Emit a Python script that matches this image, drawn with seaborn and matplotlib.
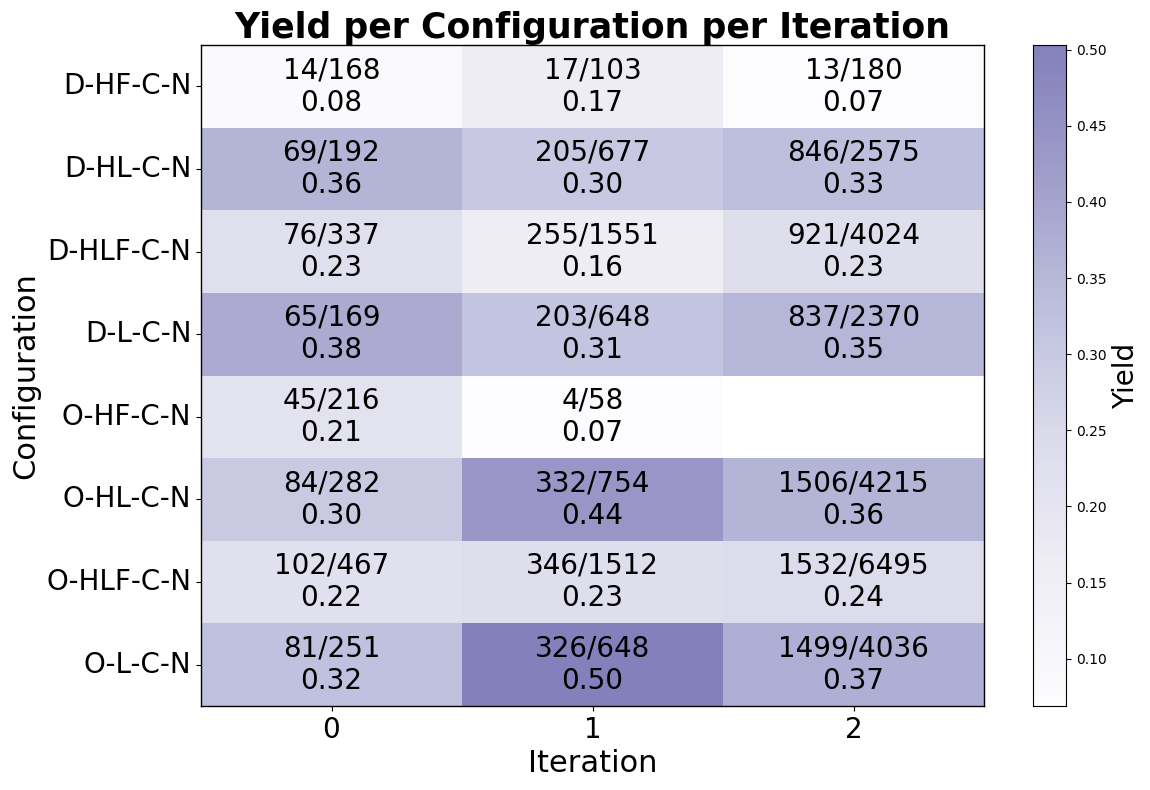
import numpy as np
import pandas as pd
import matplotlib
matplotlib.use("Agg")
import matplotlib.pyplot as plt
import seaborn as sns
from matplotlib.colors import LinearSegmentedColormap

configs = ["D-HF-C-N", "D-HL-C-N", "D-HLF-C-N", "D-L-C-N",
           "O-HF-C-N", "O-HL-C-N", "O-HLF-C-N", "O-L-C-N"]
iterations = ["0", "1", "2"]
successes = [
    [14, 17, 13],
    [69, 205, 846],
    [76, 255, 921],
    [65, 203, 837],
    [45, 4, np.nan],
    [84, 332, 1506],
    [102, 346, 1532],
    [81, 326, 1499],
]
totals = [
    [168, 103, 180],
    [192, 677, 2575],
    [337, 1551, 4024],
    [169, 648, 2370],
    [216, 58, np.nan],
    [282, 754, 4215],
    [467, 1512, 6495],
    [251, 648, 4036],
]

s = np.array(successes, dtype=float)
t = np.array(totals, dtype=float)
yld = s / t
df = pd.DataFrame(yld, index=configs, columns=iterations)

annot = np.empty(yld.shape, dtype=object)
for i in range(yld.shape[0]):
    for j in range(yld.shape[1]):
        if np.isnan(yld[i, j]):
            annot[i, j] = ""
        else:
            annot[i, j] = f"{int(s[i, j])}/{int(t[i, j])}\n{yld[i, j]:.2f}"

base = plt.get_cmap("Purples")
cmap = LinearSegmentedColormap.from_list("trunc", base(np.linspace(0.0, 0.61, 256)))

fig = plt.figure(figsize=(11.5, 7.9), dpi=100)
ax = fig.add_axes([201/1150, 1-706/790, (984-201)/1150, (706-45)/790])
cax = fig.add_axes([1033/1150, 1-706/790, (1066-1033)/1150, (706-45)/790])

sns.heatmap(df, ax=ax, cbar_ax=cax, cmap=cmap, annot=annot, fmt="",
            annot_kws={"fontsize": 20, "color": "black"},
            vmin=np.nanmin(yld), vmax=np.nanmax(yld))

for sp in ax.spines.values():
    sp.set_visible(True)
    sp.set_color("black")
    sp.set_linewidth(1)

ax.set_title("Yield per Configuration per Iteration", fontsize=25, fontweight="bold", pad=3)
ax.set_xlabel("Iteration", fontsize=22)
ax.set_ylabel("Configuration", fontsize=22)
ax.tick_params(axis="both", labelsize=20)
ax.set_yticklabels(configs, rotation=0)
ax.set_xticklabels(iterations, rotation=0)

cax.tick_params(labelsize=10)
cax.set_ylabel("Yield", fontsize=20)
for sp in cax.spines.values():
    sp.set_visible(True)
    sp.set_color("black")

fig.savefig("out.png", dpi=100)
